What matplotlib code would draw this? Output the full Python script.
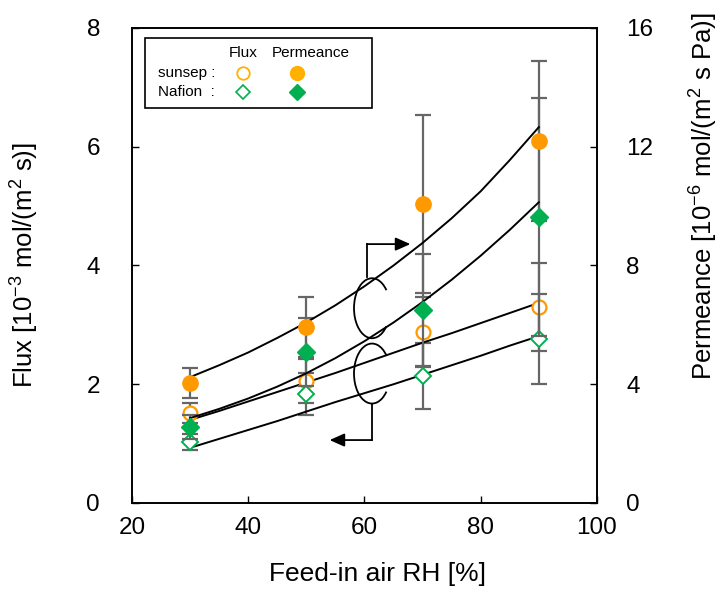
import matplotlib
matplotlib.use("Agg")
import matplotlib.pyplot as plt
from matplotlib.patches import Arc, Rectangle

plt.rcParams['font.family'] = ['Liberation Sans', 'DejaVu Sans']
plt.rcParams['mathtext.fontset'] = 'custom'
plt.rcParams['mathtext.rm'] = 'Liberation Sans'
plt.rcParams['mathtext.it'] = 'Liberation Sans:italic'
plt.rcParams['mathtext.bf'] = 'Liberation Sans:bold'

# --- data ---
rh = [30, 50, 70, 90]

# flux [1e-3 mol/(m2 s)], left axis
flux_sunsep = [1.52, 2.05, 2.88, 3.30]
flux_sunsep_err = [0.17, 0.37, 0.59, 0.74]
flux_nafion = [1.03, 1.84, 2.14, 2.76]
flux_nafion_err = [0.13, 0.35, 0.56, 0.76]

# permeance [1e-6 mol/(m2 s Pa)], right axis
perm_sunsep = [4.04, 5.93, 10.07, 12.19]
perm_sunsep_err = [0.5, 1.0, 3.0, 2.7]
perm_nafion = [2.56, 5.08, 6.50, 9.63]
perm_nafion_err = [0.4, 1.15, 1.9, 4.0]

# model curves, read every 5 % RH
rh_fit = [30, 35, 40, 45, 50, 55, 60, 65, 70, 75, 80, 85, 90]
fit_perm_sunsep = [4.24, 4.64, 5.07, 5.56, 6.08, 6.66, 7.30, 8.00, 8.76, 9.59, 10.50, 11.55, 12.66]
fit_perm_nafion = [2.86, 3.17, 3.52, 3.92, 4.37, 4.88, 5.45, 6.08, 6.77, 7.52, 8.33, 9.20, 10.13]
fit_flux_sunsep = [1.40, 1.55, 1.71, 1.87, 2.03, 2.19, 2.36, 2.53, 2.70, 2.86, 3.03, 3.20, 3.37]
fit_flux_nafion = [0.93, 1.08, 1.23, 1.38, 1.54, 1.70, 1.85, 2.00, 2.16, 2.32, 2.48, 2.65, 2.81]

ORANGE = '#FF9900'
GREEN = '#00B050'
ERR = '#666666'

fig = plt.figure(figsize=(7.2, 5.94), dpi=100)
ax = fig.add_axes([0.1833, 0.1532, 0.6458, 0.7997])
ax2 = ax.twinx()

eb = dict(fmt='none', ecolor=ERR, elinewidth=1.6, capsize=6, capthick=1.6)
ax.errorbar(rh, flux_sunsep, yerr=flux_sunsep_err, **eb)
ax.errorbar(rh, flux_nafion, yerr=flux_nafion_err, **eb)
ax2.errorbar(rh, perm_sunsep, yerr=perm_sunsep_err, **eb)
ax2.errorbar(rh, perm_nafion, yerr=perm_nafion_err, **eb)

ax.plot(rh_fit, fit_flux_sunsep, color='black', lw=1.4)
ax.plot(rh_fit, fit_flux_nafion, color='black', lw=1.4)
ax2.plot(rh_fit, fit_perm_sunsep, color='black', lw=1.4)
ax2.plot(rh_fit, fit_perm_nafion, color='black', lw=1.4)

ax.plot(rh, flux_sunsep, 'o', ms=10, mfc='white', mec=ORANGE, mew=1.6, ls='none', zorder=5)
ax.plot(rh, flux_nafion, 'D', ms=8, mfc='white', mec=GREEN, mew=1.4, ls='none', zorder=5)
ax2.plot(rh, perm_sunsep, 'o', ms=11, color=ORANGE, ls='none', zorder=5)
ax2.plot(rh, perm_nafion, 'D', ms=9, color=GREEN, ls='none', zorder=5)

ax.set_xlim(20, 100)
ax.set_ylim(0, 8)
ax2.set_ylim(0, 16)
ax.set_xticks([20, 40, 60, 80, 100])
ax.set_yticks([0, 2, 4, 6, 8])
ax2.set_yticks([0, 4, 8, 12, 16])
for a in (ax, ax2):
    a.tick_params(direction='in', length=5, width=1, labelsize=17.5)
    for s in a.spines.values():
        s.set_linewidth(1.2)
ax.tick_params(axis='x', pad=10)
ax.tick_params(axis='y', pad=23)
ax2.tick_params(axis='y', pad=21)

ax.set_xlabel('Feed-in air RH [%]', fontsize=19)
ax.set_ylabel('Flux [10$^{-3}$ mol/(m$^2$ s)]', fontsize=18.5)
ax2.set_ylabel('Permeance [10$^{-6}$ mol/(m$^2$ s Pa)]', fontsize=18.5)
ax.xaxis.set_label_coords(0.527, -0.125)
ax.yaxis.set_label_coords(-0.195, 0.5)
ax2.yaxis.set_label_coords(1.196, 0.646)

# loops and arrows marking which axis each pair of curves uses
for cy in (3.28, 2.18):
    ax.add_patch(Arc((61.3, cy), 6.2, 1.01, theta1=7, theta2=353, color='black', lw=1.3, zorder=6))
head = dict(arrowstyle='-|>,head_length=0.9,head_width=0.4', color='black', lw=1.3,
            shrinkA=0, shrinkB=0)
ax.plot([60.4, 60.4], [3.80, 4.36], color='black', lw=1.3)
ax.annotate('', xy=(67.9, 4.36), xytext=(60.4, 4.36), arrowprops=head)
ax.plot([61.3, 61.3], [1.67, 1.06], color='black', lw=1.3)
ax.annotate('', xy=(54.0, 1.06), xytext=(61.3, 1.06), arrowprops=head)

# hand-made legend box
T = ax.transAxes
ax2.add_patch(Rectangle((0.028, 0.832), 0.488, 0.147, transform=T, fill=True, fc='white',
                        ec='black', lw=1.2, zorder=10))
ax2.text(0.239, 0.947, 'Flux', transform=T, ha='center', va='center', fontsize=11, zorder=11)
ax2.text(0.385, 0.947, 'Permeance', transform=T, ha='center', va='center', fontsize=11, zorder=11)
ax2.text(0.056, 0.905, 'sunsep :', transform=T, ha='left', va='center', fontsize=11, zorder=11)
ax2.text(0.056, 0.865, 'Nafion  :', transform=T, ha='left', va='center', fontsize=11, zorder=11)
ax2.plot([0.239], [0.905], 'o', ms=9, mfc='white', mec='#FFB000', mew=1.3, transform=T, zorder=11)
ax2.plot([0.355], [0.905], 'o', ms=10, color='#FFB000', transform=T, zorder=11)
ax2.plot([0.239], [0.865], 'D', ms=7, mfc='white', mec=GREEN, mew=1.2, transform=T, zorder=11)
ax2.plot([0.355], [0.865], 'D', ms=8, color=GREEN, transform=T, zorder=11)

fig.savefig('out.png', dpi=100)
